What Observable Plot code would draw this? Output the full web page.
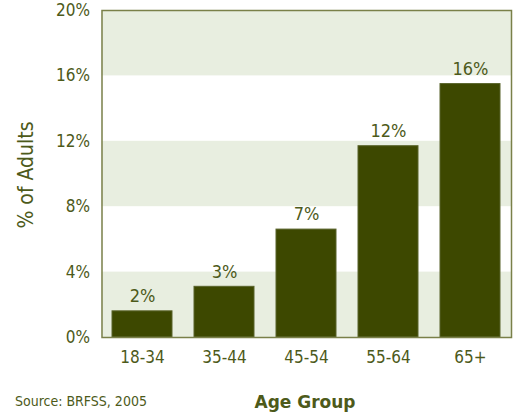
<!DOCTYPE html>
<html>
<head>
<meta charset="utf-8">
<script src="https://cdn.jsdelivr.net/npm/d3@7"></script>
<script src="https://cdn.jsdelivr.net/npm/@observablehq/plot@0.6"></script>
<style>
  body { margin: 0; background: #fff; }
  svg text { font-family: "Liberation Sans Narrow", "DejaVu Sans Condensed", "Roboto", sans-serif; font-stretch: condensed; }
</style>
</head>
<body>
<div id="chart"></div>
<script>
const ageGroups = ["18-34", "35-44", "45-54", "55-64", "65+"];
const percents = [1.6, 3.1, 6.6, 11.7, 15.5];
const labels = ["2%", "3%", "7%", "12%", "16%"];
const yTicks = [0, 4, 8, 12, 16, 20];
const bandStarts = [0, 8, 16];

const data = ageGroups.map((g, i) => ({group: g, value: percents[i], label: labels[i]}));
const bands = bandStarts.map(s => ({y1: s, y2: s + 4}));

const textColor = "#4d5a1a";
const barColor = "#3d4800";

const chart = Plot.plot({
  width: 515,
  height: 412,
  marginLeft: 101.5,
  marginRight: 4,
  marginTop: 10,
  marginBottom: 75,
  style: {fontSize: "17px", color: textColor, background: "#fff"},
  x: {domain: ageGroups, paddingInner: 0.27, paddingOuter: 0.128, label: null, tickSize: 0, tickPadding: 13},
  y: {domain: [0, 20], ticks: yTicks, tickFormat: d => d + "%", tickSize: 0, tickPadding: 12, label: null},
  marks: [
    Plot.rect(bands, {y1: "y1", y2: "y2", fill: "#e8eee0"}),
    Plot.barY(data, {x: "group", y: "value", fill: barColor, stroke: "#59632a", strokeWidth: 1}),
    Plot.text(data, {x: "group", y: "value", text: "label", dy: -15, fill: textColor, fontSize: 18}),
    Plot.frame({stroke: "#7a8049", strokeWidth: 1.5})
  ]
});

document.getElementById("chart").appendChild(chart);

const svg = d3.select(chart);
svg.append("text")
  .attr("transform", "translate(33,175) rotate(-90)")
  .attr("text-anchor", "middle")
  .attr("fill", textColor)
  .style("font-size", "21px")
  .text("% of Adults");
svg.append("text")
  .attr("x", 305).attr("y", 408)
  .attr("text-anchor", "middle")
  .attr("fill", textColor)
  .style("font-size", "17px")
  .style("font-weight", "bold")
  .style("font-family", "'DejaVu Sans', sans-serif")
  .style("font-stretch", "normal")
  .text("Age Group");
const src = svg.append("text")
  .attr("x", 15).attr("y", 406)
  .attr("text-anchor", "start")
  .attr("fill", textColor)
  .style("font-size", "14px");
src.append("tspan").text("Source");
src.append("tspan").text(": BRFSS, 2005");
</script>
</body>
</html>
